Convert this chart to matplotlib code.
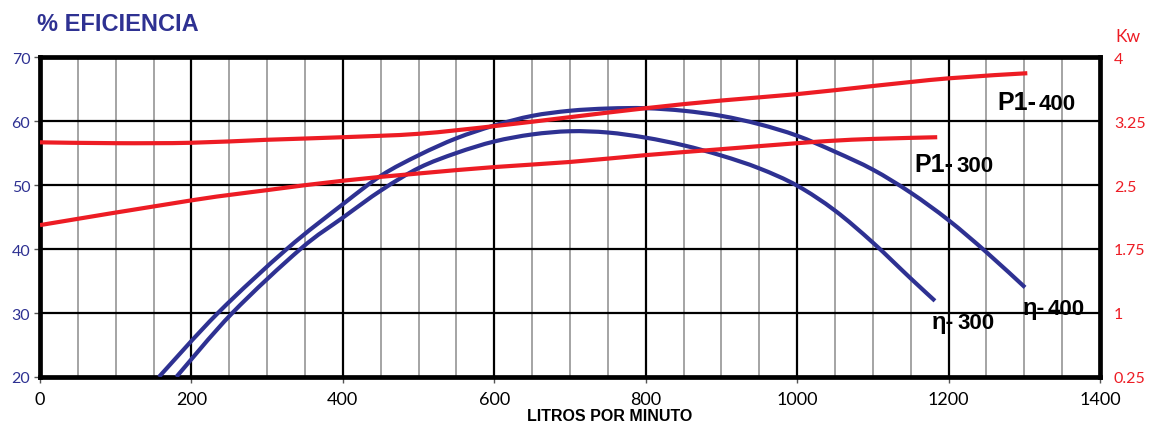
import matplotlib
matplotlib.use('Agg')
import matplotlib.pyplot as plt
from matplotlib.path import Path
from matplotlib.patches import PathPatch
import numpy as np

NAVY = '#2e3192'
RED = '#ed1c24'

# eficiencia (%) vs caudal (l/min)
eta400_q = [157, 235, 326, 400, 451, 501, 550, 600, 650, 700, 750, 800, 850, 900,
            950, 1000, 1050, 1100, 1150, 1200, 1250, 1301]
eta400_v = [20, 30, 40, 47.0, 51.5, 54.7, 57.3, 59.3, 60.8, 61.6, 61.95, 62.0, 61.6, 60.8,
            59.5, 57.7, 55.2, 52.4, 48.8, 44.5, 39.5, 34.0]

eta300_q = [180, 254, 344, 400, 451, 501, 550, 600, 650, 700, 750, 800, 850, 900,
            950, 1000, 1050, 1100, 1150, 1182]
eta300_v = [20, 30, 40, 44.9, 49.2, 52.7, 55.0, 56.8, 57.9, 58.4, 58.2, 57.4, 56.2, 54.6,
            52.6, 49.9, 46.0, 41.0, 35.4, 31.9]

# potencia P1 (kW)
p400_q = [0, 100, 200, 300, 400, 500, 600, 700, 800, 900, 1000, 1100, 1200, 1304]
p400_kw = [3.00, 2.99, 2.995, 3.03, 3.06, 3.10, 3.19, 3.295, 3.40, 3.49, 3.565, 3.66, 3.75, 3.81]

p300_q = [0, 200, 300, 400, 500, 600, 700, 800, 900, 1000, 1050, 1100, 1185]
p300_kw = [2.03, 2.32, 2.44, 2.55, 2.635, 2.71, 2.77, 2.85, 2.92, 2.99, 3.02, 3.04, 3.06]

left_ticks = [20, 30, 40, 50, 60, 70]
right_ticks = [0.25, 1, 1.75, 2.5, 3.25, 4]
right_labels = ['0.25', '1', '1.75', '2.5', '3.25', '4']
x_ticks = [0, 200, 400, 600, 800, 1000, 1200, 1400]


def smooth_curve(axis, xs, ys, color, lw=3.0):
    # curva suave (catmull-rom -> bezier) que pasa por los puntos
    p = np.column_stack([xs, ys]).astype(float)
    ext = np.vstack([p[0], p, p[-1]])
    verts = [tuple(p[0])]
    codes = [Path.MOVETO]
    for i in range(len(p) - 1):
        p0, p1, p2, p3 = ext[i], ext[i + 1], ext[i + 2], ext[i + 3]
        c1 = p1 + (p2 - p0) / 6.0
        c2 = p2 - (p3 - p1) / 6.0
        verts += [tuple(c1), tuple(c2), tuple(p2)]
        codes += [Path.CURVE4] * 3
    patch = PathPatch(Path(verts, codes), fill=False, edgecolor=color, lw=lw,
                      capstyle='butt', zorder=3)
    axis.add_patch(patch)


W, H = 1150, 431
fig = plt.figure(figsize=(W / 100, H / 100), dpi=100)
ax = fig.add_axes([40 / W, 1 - 378 / H, 1060 / W, 320 / H])

ax.set_xlim(0, 1400)
ax.set_ylim(20, 70)

# rejilla
for q in np.arange(50, 1400, 50):
    if q % 200 == 0:
        ax.axvline(q, color='black', lw=1.6, zorder=1)
    else:
        ax.axvline(q, color='#8c8c8c', lw=1.1, zorder=1)
for v in left_ticks[1:-1]:
    ax.axhline(v, color='black', lw=1.6, zorder=1)

smooth_curve(ax, eta400_q, eta400_v, NAVY)
smooth_curve(ax, eta300_q, eta300_v, NAVY)

for s in ax.spines.values():
    s.set_linewidth(3.4)
    s.set_color('black')

tickfont = 'Lato'
ax.set_xticks(x_ticks)
ax.set_xticklabels([str(t) for t in x_ticks], fontsize=13, family=tickfont)
ax.set_yticks(left_ticks)
ax.set_yticklabels([str(t) for t in left_ticks], fontsize=11.5, family=tickfont, color=NAVY)
ax.tick_params(axis='y', length=4, width=1, color='#555555', pad=3)
ax.tick_params(axis='x', length=4, width=1, color='#555555', pad=6)

ax2 = ax.twinx()
ax2.set_ylim(0.25, 4)
ax2.set_yticks(right_ticks)
ax2.set_yticklabels(right_labels, fontsize=11.5, family=tickfont, color=RED)
ax2.tick_params(axis='y', length=0, pad=10)
for s in ax2.spines.values():
    s.set_visible(False)

smooth_curve(ax2, p400_q, p400_kw, RED)
smooth_curve(ax2, p300_q, p300_kw, RED)

narrow = ['Liberation Sans Narrow', 'Liberation Sans']

fig.text(37 / W, 1 - 31 / H, '% EFICIENCIA', family=narrow, fontweight='bold',
         fontsize=17, color=NAVY, va='baseline', ha='left')
fig.text(1115 / W, 1 - 42 / H, 'Kw', family=tickfont, fontsize=12.5, color=RED,
         va='baseline', ha='left')
fig.text(610 / W, 1 - 421 / H, 'LITROS POR MINUTO', family=narrow, fontweight='bold',
         fontsize=11.5, color='black', va='baseline', ha='center')


def curve_label(x_split, y_base, head, tail, big=18):
    fig.text(x_split / W, 1 - y_base / H, head, family='Liberation Sans', fontweight='bold',
             fontsize=big, color='black', va='baseline', ha='right')
    fig.text((x_split + 3) / W, 1 - y_base / H, tail, family=narrow, fontweight='bold',
             fontsize=16, color='black', va='baseline', ha='left')


curve_label(1036, 110, 'P1-', '400')
curve_label(953, 172, 'P1-', '300')
curve_label(1045, 315, 'η-', '400', big=17)
curve_label(954, 329, 'η-', '300', big=17)

fig.savefig('out.png', dpi=100)
